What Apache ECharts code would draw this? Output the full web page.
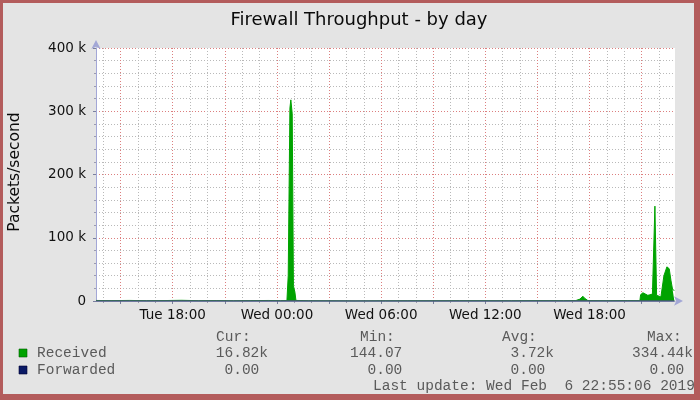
<!DOCTYPE html>
<html>
<head>
<meta charset="utf-8">
<script src="https://cdn.jsdelivr.net/npm/echarts@6/dist/echarts.min.js"></script>
<style>
html,body{margin:0;padding:0;background:#b35c5c;}
#chart{width:700px;height:400px;}
</style>
</head>
<body>
<div id="chart"></div>
<script>
// ---------- data ----------
const chartTitle = 'Firewall Throughput - by day';
const yAxisName = 'Packets/second';
// hours counted from Tue 00:00
const xStart = 13.583;   // Tue 13:35
const xEnd = 46.917;     // Wed 22:55
const labelHours = [18, 24, 30, 36, 42];
const labelTexts = ['Tue 18:00', 'Wed 00:00', 'Wed 06:00', 'Wed 12:00', 'Wed 18:00'];
const majorHours = [15, 18, 21, 24, 27, 30, 33, 36, 39, 42, 45];
const minorHours = [14, 16, 17, 19, 20, 22, 23, 25, 26, 28, 29, 31, 32, 34, 35, 37, 38, 40, 41, 43, 44, 46];
const yMax = 400000;
const yStep = 100000;

const times = [
  13.583, 14.5, 15.5, 16.5, 17.5, 18.5, 19.5, 20.5, 21.5, 22.5, 23.5, 24.2,
  24.575, 24.649, 24.747, 24.80, 24.88, 24.949, 25.035, 25.093,
  25.8, 27.0, 28.5, 30.0, 31.5, 33.0, 34.5, 36.0, 37.5, 39.0, 40.5,
  41.212, 41.443, 41.615, 41.731, 41.903, 43.0, 44.2,
  44.897, 44.937, 45.07, 45.185, 45.35, 45.473, 45.617, 45.663, 45.761, 45.858, 45.904,
  46.106, 46.146, 46.279, 46.451, 46.584, 46.682, 46.779, 46.883
];
const received = [
  850, 620, 910, 480, 700, 1100, 530, 760, 390, 640, 820, 560,
  800, 40000, 305000, 318000, 296000, 24000, 14000, 900,
  450, 300, 144, 260, 410, 350, 520, 470, 380, 610, 540,
  700, 3000, 7500, 4000, 650, 480, 720,
  600, 10000, 13000, 10500, 9000, 9800, 11000, 12000, 150000, 9000, 6000,
  6500, 9500, 40000, 54000, 51000, 33000, 18000, 16820
];
const forwarded = times.map(() => 0);

const seriesNames = ['Received', 'Forwarded'];
const statHeaders = ['Cur:', 'Min:', 'Avg:', 'Max:'];
const receivedStats = ['16.82k', '144.07', '3.72k', '334.44k'];
const forwardedStats = ['0.00', '0.00', '0.00', '0.00'];
const lastUpdate = 'Last update: Wed Feb  6 22:55:06 2019';

// ---------- layout / style ----------
const GREEN = '#00a300';
const NAVY = '#0b1a66';
const MONO = '14.5px "Liberation Mono"';
const MONO_COLOR = '#5a5a5a';
const charW = 8.7;
const colEdges = [268, 411, 554, 693];
const headerLeft = [216, 360, 502, 647];
const rowY = [337.5, 353.5, 370, 386];
const MAJOR_GRID = {color: '#dc7f7f', type: [1, 2], width: 1};
const MINOR_GRID = {color: '#b9b9b9', type: [1, 2], width: 1};

const chart = echarts.init(document.getElementById('chart'), null, {renderer: 'canvas'});

const graphics = [
  {type: 'rect', z: -100, shape: {x: 3, y: 3, width: 691, height: 391}, style: {fill: '#e4e4e4'}},
  {type: 'text', x: 359, y: 20, style: {text: chartTitle, font: '18px "DejaVu Sans"', fill: '#0a0a0a',
    textAlign: 'center', align: 'center', textVerticalAlign: 'middle', verticalAlign: 'middle'}},
  {type: 'text', x: 14.5, y: 172, rotation: Math.PI / 2, style: {text: yAxisName, font: '15.5px "DejaVu Sans"', fill: '#0a0a0a',
    textAlign: 'center', align: 'center', textVerticalAlign: 'middle', verticalAlign: 'middle'}},
  {type: 'rect', shape: {x: 19, y: 349, width: 8, height: 8}, style: {fill: GREEN, stroke: '#006000', lineWidth: 0.6}},
  {type: 'rect', shape: {x: 19, y: 366, width: 8, height: 8}, style: {fill: NAVY, stroke: '#000033', lineWidth: 0.6}},
];
function monoText(txt, x, y, align) {
  return {type: 'text', x: x, y: y, style: {text: txt, font: MONO, fill: MONO_COLOR,
    textAlign: align, align: align, textVerticalAlign: 'middle', verticalAlign: 'middle'}};
}
statHeaders.forEach((h, i) => graphics.push(monoText(h, headerLeft[i], rowY[0], 'left')));
graphics.push(monoText(seriesNames[0], 37, rowY[1], 'left'));
graphics.push(monoText(seriesNames[1], 37, rowY[2], 'left'));
[receivedStats, forwardedStats].forEach((row, r) => {
  row.forEach((v, i) => {
    const right = colEdges[i] - (/[a-zA-Z]$/.test(v) ? 0 : charW);
    graphics.push(monoText(v, right, rowY[r + 1], 'right'));
  });
});
graphics.push(monoText(lastUpdate, 373, rowY[3], 'left'));

const labelFont = {fontFamily: 'DejaVu Sans', fontSize: 13.5, color: '#111'};

const option = {
  animation: false,
  backgroundColor: '#b35c5c',
  grid: {left: 96, right: 25, top: 48, bottom: 99, show: true, backgroundColor: '#ffffff', borderWidth: 0},
  graphic: {elements: graphics},
  xAxis: [
    {
      type: 'value', min: xStart, max: xEnd, position: 'bottom',
      axisLine: {show: true, onZero: false, lineStyle: {color: '#a3a7d6', width: 1},
        symbol: ['none', 'arrow'], symbolSize: [7, 9], symbolOffset: [0, 8]},
      axisTick: {show: true, customValues: majorHours, length: 3, lineStyle: {color: '#7a7f9e'}},
      axisLabel: Object.assign({customValues: labelHours, margin: 7,
        formatter: v => {
          let best = 0;
          labelHours.forEach((h, i) => { if (Math.abs(h - v) < Math.abs(labelHours[best] - v)) best = i; });
          return labelTexts[best];
        }}, labelFont),
      splitLine: {show: true, lineStyle: MAJOR_GRID}
    },
    {
      type: 'value', min: xStart, max: xEnd, position: 'bottom',
      axisLine: {show: false},
      axisTick: {show: true, customValues: minorHours, length: 2, lineStyle: {color: '#9a9ab0'}},
      axisLabel: {show: false},
      splitLine: {show: true, lineStyle: MINOR_GRID}
    }
  ],
  yAxis: {
    type: 'value', min: 0, max: yMax, interval: yStep,
    axisLine: {show: true, lineStyle: {color: '#a3a7d6', width: 1},
      symbol: ['none', 'arrow'], symbolSize: [7, 9], symbolOffset: [0, 8]},
    axisTick: {show: true, length: 3, lineStyle: {color: '#7a7f9e'}},
    minorTick: {show: true, splitNumber: 5, length: 2, lineStyle: {color: '#9a9ab0'}},
    axisLabel: Object.assign({margin: 10, formatter: v => v === 0 ? '0' : (v / 1000) + ' k'}, labelFont),
    splitLine: {show: true, lineStyle: MAJOR_GRID},
    minorSplitLine: {show: true, lineStyle: MINOR_GRID}
  },
  series: [
    {
      name: seriesNames[0], type: 'line', xAxisIndex: 0, yAxisIndex: 0,
      data: times.map((t, i) => [t, received[i]]),
      symbol: 'none', showSymbol: false,
      lineStyle: {color: GREEN, width: 1},
      itemStyle: {color: GREEN},
      areaStyle: {color: GREEN, opacity: 1},
      z: 3
    },
    {
      name: seriesNames[1], type: 'line', xAxisIndex: 0, yAxisIndex: 0,
      data: times.map((t, i) => [t, forwarded[i]]),
      symbol: 'none', showSymbol: false,
      lineStyle: {color: '#4a5478', width: 1.6},
      itemStyle: {color: NAVY},
      z: 4
    }
  ]
};
chart.setOption(option);
</script>
</body>
</html>
